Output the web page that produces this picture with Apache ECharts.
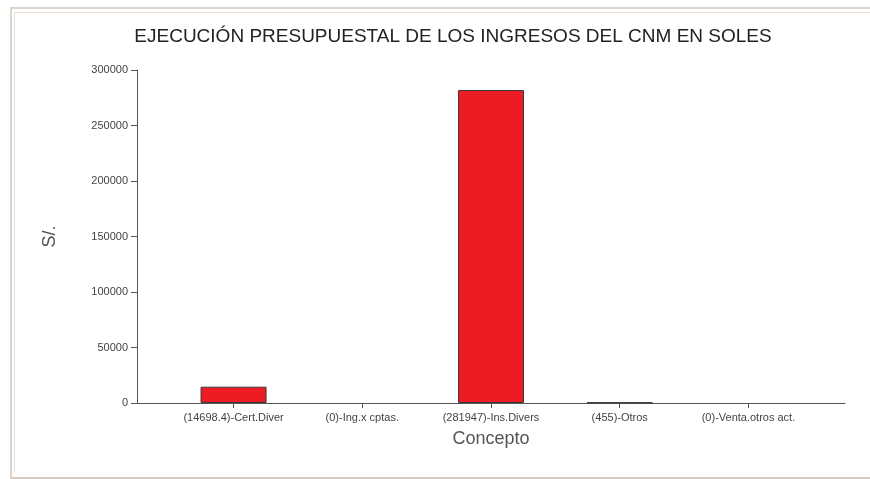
<!DOCTYPE html>
<html>
<head>
<meta charset="utf-8">
<script src="https://cdn.jsdelivr.net/npm/echarts@6/dist/echarts.min.js"></script>
<style>
  html, body { margin: 0; padding: 0; background: #fff; width: 870px; height: 479px; overflow: hidden; }
  #frame { position: absolute; left: 10px; top: 7px; width: 900px; height: 468px;
           border-top: 2px solid #ddd5cc; border-left: 2px solid #ddd5cc; border-bottom: 3px solid #d6ccc2; }
  #inner { position: absolute; left: 14px; top: 12px; width: 900px; height: 460px;
           border-top: 1px solid #e6dfd8; border-left: 1px solid #e6dfd8; }
  #chart { position: absolute; left: 0; top: 0; width: 870px; height: 479px; }
</style>
</head>
<body>
<div id="frame"></div>
<div id="inner"></div>
<div id="chart"></div>
<script>
const categories = ['(14698.4)-Cert.Diver', '(0)-Ing.x cptas.', '(281947)-Ins.Divers', '(455)-Otros', '(0)-Venta.otros act.'];
const values = [14698.4, 0, 281947, 455, 0];
const yTicks = [0, 50000, 100000, 150000, 200000, 250000, 300000];
const titleText = 'EJECUCIÓN PRESUPUESTAL DE LOS INGRESOS DEL CNM EN SOLES';
const xName = 'Concepto';
const yName = 'S/.';

const idx = categories.map((c, i) => i);
const chart = echarts.init(document.getElementById('chart'), null, { renderer: 'canvas' });
chart.setOption({
  backgroundColor: 'transparent',
  animation: false,
  title: {
    text: titleText,
    left: 448, top: 22, textAlign: 'center',
    textStyle: { fontFamily: '"Liberation Sans Narrow", "Liberation Sans", Arial, sans-serif', fontSize: 19, fontWeight: 'normal', color: '#222' }
  },
  grid: { left: 137, right: 25, top: 70, bottom: 76, containLabel: false },
  xAxis: {
    type: 'value', min: -0.75, max: 4.75,
    name: xName, nameLocation: 'middle', nameGap: 27,
    nameTextStyle: { fontFamily: '"Liberation Sans", Arial, sans-serif', fontSize: 18, color: '#555' },
    axisLine: { show: true, onZero: false, lineStyle: { color: '#555', width: 1 } },
    axisTick: { show: true, length: 5, customValues: idx, lineStyle: { color: '#555' } },
    axisLabel: { customValues: idx, margin: 9, fontFamily: '"Liberation Sans", Arial, sans-serif', fontSize: 11, color: '#444',
                 formatter: v => categories[Math.round(v)] },
    splitLine: { show: false }
  },
  yAxis: {
    type: 'value', min: yTicks[0], max: yTicks[yTicks.length - 1], interval: yTicks[1] - yTicks[0],
    name: yName, nameLocation: 'middle', nameGap: 78,
    nameTextStyle: { fontFamily: '"Liberation Sans", Arial, sans-serif', fontSize: 18, color: '#555' },
    axisLine: { show: true, onZero: false, lineStyle: { color: '#555', width: 1 } },
    axisTick: { show: true, length: 6, lineStyle: { color: '#555' } },
    axisLabel: { margin: 9, fontFamily: '"Liberation Sans", Arial, sans-serif', fontSize: 11, color: '#444',
                 formatter: v => String(v) },
    splitLine: { show: false }
  },
  series: [{
    type: 'bar',
    data: values.map((v, i) => ({ value: [idx[i], v], itemStyle: v === 0 ? { borderWidth: 0 } : {} })),
    barWidth: 66,
    itemStyle: { color: '#ed1c24', borderColor: '#3a3a3a', borderWidth: 1 }
  }]
});
</script>
</body>
</html>
